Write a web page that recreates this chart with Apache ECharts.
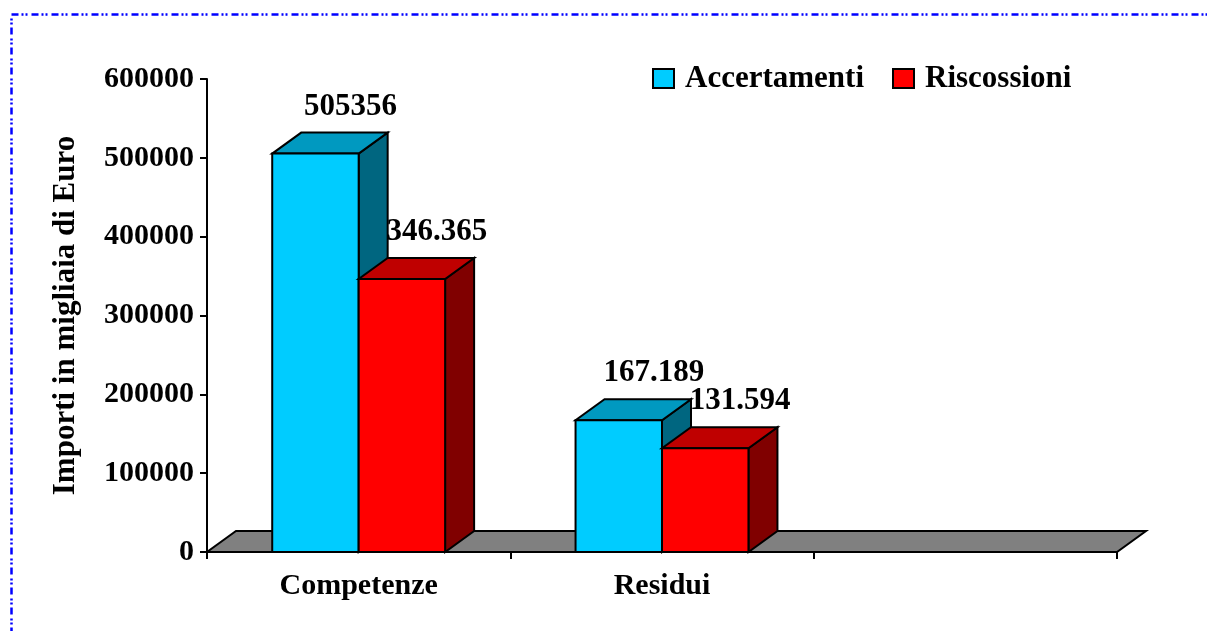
<!DOCTYPE html>
<html><head><meta charset="utf-8">
<script src="https://cdn.jsdelivr.net/npm/echarts@6/dist/echarts.min.js"></script>
<style>html,body{margin:0;padding:0;background:#fff}#c{width:1207px;height:631px}</style>
</head><body><div id="c"></div>
<script>
// ---- data ----
const categories = ['Competenze', 'Residui', ''];
const seriesNames = ['Accertamenti', 'Riscossioni'];
const accertamenti = [505356, 167189];
const riscossioni = [346365, 131594];
const accertamentiLabels = ['505356', '167.189'];
const riscossioniLabels = ['346.365', '131.594'];
const yMin = 0, yMax = 600000, yInterval = 100000;
const yAxisTitle = 'Importi in migliaia di Euro';

// ---- style ----
const FONT = 'Liberation Serif';
const DX = 29, DY = -21;      // 3D depth offset (px)
const BAR_FRAC = 0.285;       // bar width as fraction of category
const palette = {
  Accertamenti: { front: '#00CCFF', top: '#0099C0', side: '#006680' },
  Riscossioni:  { front: '#FF0000', top: '#BF0000', side: '#800000' }
};
const stroke = { stroke: '#000', lineWidth: 2 };

function boxRenderer(slot, colors, labels) {
  return function (params, api) {
    const cat = api.value(0), val = api.value(1);
    const base = api.coord([cat, 0]);
    const top = api.coord([cat, val]);
    const catW = api.size([1, 0])[0];
    const bw = catW * BAR_FRAC;
    const x0 = base[0] + (slot === 0 ? -bw : 0);
    const x1 = x0 + bw;
    const yb = base[1], yt = top[1];
    return {
      type: 'group',
      children: [
        { type: 'polygon', shape: { points: [[x1, yt], [x1 + DX, yt + DY], [x1 + DX, yb + DY], [x1, yb]] },
          style: Object.assign({ fill: colors.side }, stroke) },
        { type: 'polygon', shape: { points: [[x0, yt], [x1, yt], [x1 + DX, yt + DY], [x0 + DX, yt + DY]] },
          style: Object.assign({ fill: colors.top }, stroke) },
        { type: 'rect', shape: { x: x0, y: yt, width: bw, height: yb - yt },
          style: Object.assign({ fill: colors.front }, stroke) },
        { type: 'text', style: { text: labels[params.dataIndex], x: x0 + bw / 2 + DX + 6, y: yt + DY - 26,
          align: 'center', verticalAlign: 'middle', fill: '#000',
          font: 'bold 31px "' + FONT + '"' } }
      ]
    };
  };
}

function floorRenderer(params, api) {
  const cs = params.coordSys;
  const yb = cs.y + cs.height, xl = cs.x, xr = cs.x + cs.width;
  return {
    type: 'polygon',
    shape: { points: [[xl, yb], [xr, yb], [xr + DX, yb + DY], [xl + DX, yb + DY]] },
    style: Object.assign({ fill: '#808080' }, stroke)
  };
}

const chart = echarts.init(document.getElementById('c'), null, { renderer: 'canvas' });
chart.setOption({
  animation: false,
  backgroundColor: '#fff',
  grid: { left: 207, right: 90, top: 79, bottom: 79 },
  graphic: [{
    type: 'rect', left: 9, top: 12, z: 100,
    shape: { width: 1260, height: 700 },
    style: { fill: 'none', stroke: '#0000FF', lineWidth: 2.5, lineDash: [7, 3, 2, 2, 2, 4] }
  }],
  legend: {
    data: seriesNames,
    left: 652, top: 63, padding: 0,
    icon: 'rect', itemWidth: 21, itemHeight: 19, itemGap: 28,
    itemStyle: { borderColor: '#000', borderWidth: 2 },
    textStyle: { fontFamily: FONT, fontWeight: 'bold', fontSize: 31, color: '#000', padding: [0, 0, 0, 6] }
  },
  xAxis: {
    type: 'category', data: categories, boundaryGap: true,
    axisLine: { lineStyle: { color: '#000', width: 2 } },
    axisTick: { show: true, interval: 0, length: 7, lineStyle: { color: '#000', width: 2 } },
    axisLabel: { interval: 0, margin: 19, fontFamily: FONT, fontWeight: 'bold', fontSize: 30, color: '#000' },
    splitLine: { show: false }
  },
  yAxis: {
    type: 'value', min: yMin, max: yMax, interval: yInterval,
    name: yAxisTitle, nameLocation: 'middle', nameGap: 126,
    nameTextStyle: { fontFamily: FONT, fontWeight: 'bold', fontSize: 31, color: '#000' },
    axisLine: { show: true, lineStyle: { color: '#000', width: 2 } },
    axisTick: { show: true, length: 7, lineStyle: { color: '#000', width: 2 } },
    axisLabel: { margin: 13, fontFamily: FONT, fontWeight: 'bold', fontSize: 30, color: '#000',
      formatter: v => String(v) },
    splitLine: { show: false }
  },
  series: [
    { type: 'custom', name: 'floor', renderItem: floorRenderer, data: [[0, 0]], z: 1, silent: true },
    { type: 'custom', name: seriesNames[0], renderItem: boxRenderer(0, palette.Accertamenti, accertamentiLabels),
      encode: { x: 0, y: 1 }, data: accertamenti.map((v, i) => [i, v]), itemStyle: { color: palette.Accertamenti.front }, z: 2 },
    { type: 'custom', name: seriesNames[1], renderItem: boxRenderer(1, palette.Riscossioni, riscossioniLabels),
      encode: { x: 0, y: 1 }, data: riscossioni.map((v, i) => [i, v]), itemStyle: { color: palette.Riscossioni.front }, z: 3 }
  ]
});
</script></body></html>
